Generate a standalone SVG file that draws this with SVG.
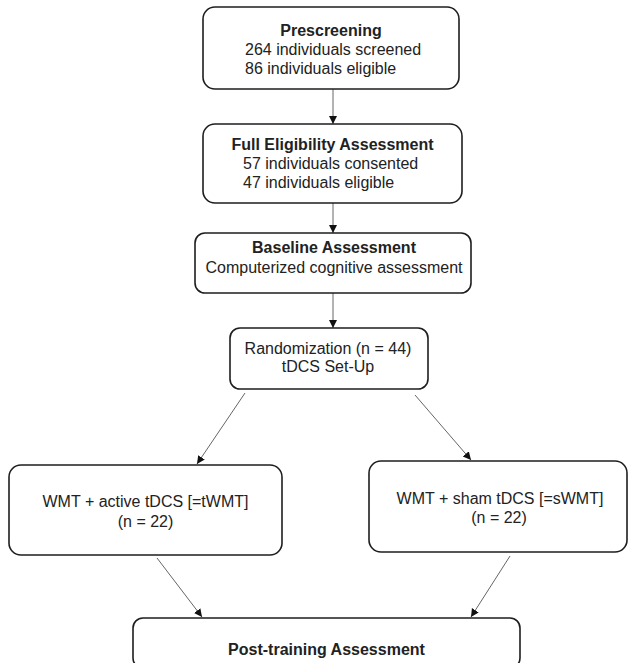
<svg xmlns="http://www.w3.org/2000/svg" width="628" height="663" viewBox="0 0 628 663">
<style>
.box{fill:#fff;stroke:#1e1e1e;stroke-width:1.6}
.t{font-family:"Liberation Sans",Arial,sans-serif;font-size:16px;fill:#222}
.b{font-weight:bold}
.c{text-anchor:middle}
.conn{stroke:#666;stroke-width:1;fill:none;marker-end:url(#ah)}
</style>
<defs>
<marker id="ah" markerUnits="userSpaceOnUse" markerWidth="9" markerHeight="9" refX="8" refY="4" orient="auto">
<path d="M0,0 L8,4 L0,8 z" fill="#111"/>
</marker>
</defs>
<rect width="628" height="663" fill="#fff"/>
<g id="connectors">
<line class="conn" x1="333" y1="89" x2="333" y2="124"/>
<line class="conn" x1="333" y1="203" x2="333" y2="233"/>
<line class="conn" x1="333" y1="293" x2="333" y2="328"/>
<line class="conn" x1="245" y1="393" x2="197" y2="464"/>
<line class="conn" x1="415" y1="395" x2="471" y2="460"/>
<line class="conn" x1="157" y1="558" x2="202" y2="617"/>
<line class="conn" x1="510" y1="556" x2="471" y2="617"/>
</g>
<g id="prescreening">
<rect class="box" x="203" y="7" width="256" height="82" rx="12"/>
<text class="t b c" x="331" y="36">Prescreening</text>
<text class="t" x="245" y="55">264 individuals screened</text>
<text class="t" x="245" y="74">86 individuals eligible</text>
</g>
<g id="full-eligibility">
<rect class="box" x="203" y="124" width="259" height="79" rx="12"/>
<text class="t b c" x="332.5" y="150">Full Eligibility Assessment</text>
<text class="t" x="243" y="169">57 individuals consented</text>
<text class="t" x="243" y="188">47 individuals eligible</text>
</g>
<g id="baseline">
<rect class="box" x="195" y="233" width="276" height="60" rx="10"/>
<text class="t b c" x="334" y="253">Baseline Assessment</text>
<text class="t c" x="334" y="273">Computerized cognitive assessment</text>
</g>
<g id="randomization">
<rect class="box" x="230" y="328" width="198" height="61" rx="10"/>
<text class="t c" x="328" y="354">Randomization (n = 44)</text>
<text class="t c" x="328" y="372">tDCS Set-Up</text>
</g>
<g id="active">
<rect class="box" x="9" y="465" width="273" height="90" rx="12"/>
<text class="t c" x="145.5" y="507">WMT + active tDCS [=tWMT]</text>
<text class="t c" x="145.5" y="527">(n = 22)</text>
</g>
<g id="sham">
<rect class="box" x="369" y="461" width="258" height="91" rx="12"/>
<text class="t c" x="500" y="504">WMT + sham tDCS [=sWMT]</text>
<text class="t c" x="499" y="523">(n = 22)</text>
</g>
<g id="post-training">
<rect class="box" x="133" y="618" width="387" height="50" rx="10"/>
<text class="t b c" x="326.5" y="655">Post-training Assessment</text>
</g>
</svg>
